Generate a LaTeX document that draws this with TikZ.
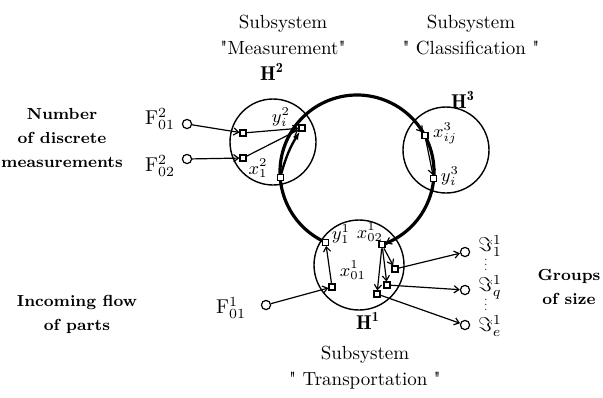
\documentclass[tikz,border=0pt]{standalone}
\usepackage{amsmath,amssymb}
\usepackage{fontspec}
\usepackage{tikz}
\usetikzlibrary{arrows.meta,calc}

\newcommand{\coldots}{\vbox{\baselineskip2.4pt\lineskiplimit0pt\hbox{.}\hbox{.}\hbox{.}}}

\begin{document}
\begin{tikzpicture}[
    x=0.5pt, y=-0.5pt,
    port/.style={draw, rectangle, line width=0.6pt, minimum size=3pt, inner sep=0pt, fill=white},
    term/.style={draw, circle, line width=0.6pt, minimum size=4.6pt, inner sep=0pt, fill=white},
    zone/.style={draw, circle, line width=0.7pt, inner sep=0pt},
    ring/.style={line width=1.6pt},
    flow/.style={line width=0.6pt, -{Straight Barb[length=2.4pt,width=3.6pt]}},
    title/.style={font=\fontsize{9.5}{13}\selectfont, align=center},
    note/.style={font=\fontsize{8}{12}\selectfont\bfseries, align=center},
    lbl/.style={font=\small, inner sep=0pt}
]
\useasboundingbox (0,0) rectangle (603,397);

% subsystems
\node[zone, minimum size=43pt] (h2) at (273,142) {};
\node[zone, minimum size=43pt] (h3) at (446,150) {};
\node[zone, minimum size=45pt] (h1) at (359,265) {};

% transport ring
\coordinate (rc) at (357,172);
\draw[ring] ($(rc)+(114:77)$) arc[start angle=114, end angle=431, radius=77];

% ports on the ring
\node[port] (x12) at ($(rc)+(176:77)$) {};
\node[port] (yi2) at (302,128) {};
\node[port] (x3ij) at ($(rc)+(332:77)$) {};
\node[port] (y3i) at ($(rc)+(5:77)$) {};
\node[port] (y11) at ($(rc)+(114:77)$) {};
\node[port] (x021) at ($(rc)+(71:77)$) {};
\coordinate (r3) at ($(rc)+(318:77)$);
\coordinate (r1) at ($(rc)+(60:77)$);

% inner ports
\node[port] (pa) at (243,133) {};
\node[port] (pb) at (243,158) {};
\node[port] (x011) at (332,287) {};
\node[port] (sa) at (395,269) {};
\node[port] (sb) at (387,285) {};
\node[port] (sc) at (377,294) {};

% terminals
\node[term] (f012) at (187,124) {};
\node[term] (f022) at (187,159) {};
\node[term] (f011) at (266,305) {};
\node[term] (oa) at (465,252) {};
\node[term] (ob) at (465,290) {};
\node[term] (oc) at (465,325) {};

% flows
\draw[flow] (f012) -- (pa);
\draw[flow] (pa) -- (yi2);
\draw[flow] (f022) -- (pb);
\draw[flow] (pb) -- (yi2);
\draw[line width=1.2pt, -{Latex[length=4pt]}] (x12) to[bend left=8] (yi2);
\draw[flow] (r3) -- (x3ij);
\draw[flow] (x3ij) -- (y3i);
\draw[flow] (f011) -- (x011);
\draw[flow] (x011) -- (y11);
\draw[flow] (r1) -- (x021);
\draw[flow] (x021) -- (sa);
\draw[flow] (x021) -- (sb);
\draw[flow] (x021) -- (sc);
\draw[flow] (sa) -- (oa);
\draw[flow] (sb) -- (ob);
\draw[flow] (sc) -- (oc);

% port labels
\node[lbl] (l-yi2) at (281,117) {$y^{2}_{i}$};
\node[lbl] (l-x12) at (258,168) {$x^{2}_{1}$};
\node[lbl] (l-x3ij) at (445,133) {$x^{3}_{ij}$};
\node[lbl] (l-y3i) at (450,176) {$y^{3}_{i}$};
\node[lbl] (l-y11) at (341,234) {$y^{1}_{1}$};
\node[lbl] (l-x011) at (353,270) {$x^{1}_{01}$};
\node[lbl] (l-x021) at (370,232) {$x^{1}_{02}$};

% terminal labels
\node[lbl, font=\normalsize] (l-f012) at (160,119) {$\mathrm{F}^{2}_{01}$};
\node[lbl, font=\normalsize] (l-f022) at (160,166) {$\mathrm{F}^{2}_{02}$};
\node[lbl, font=\normalsize] (l-f011) at (231,308) {$\mathrm{F}^{1}_{01}$};
\node[lbl, font=\normalsize, anchor=west] (l-oa) at (478,246) {$\Im^{1}_{1}$};
\node[lbl, font=\normalsize, anchor=west] (l-ob) at (478,287) {$\Im^{1}_{q}$};
\node[lbl, font=\normalsize, anchor=west] (l-oc) at (478,326) {$\Im^{1}_{e}$};
\node[lbl, font=\tiny] (d1) at (486,265) {\coldots};
\node[lbl, font=\tiny] (d2) at (486,305) {\coldots};

% subsystem names
\node[lbl, font=\normalsize] (n-h2) at (272,72) {$\mathbf{H}^{\mathbf{2}}$};
\node[lbl, font=\normalsize] (n-h3) at (463,100) {$\mathbf{H}^{\mathbf{3}}$};
\node[lbl, font=\normalsize] (n-h1) at (368,321) {$\mathbf{H}^{\mathbf{1}}$};
\node[title] (t-h2) at (283,35) {Subsystem\\\textquotedbl Measurement\textquotedbl};
\node[title] (t-h3) at (471,35) {Subsystem\\\textquotedbl\ Classification \textquotedbl};
\node[title] (t-h1) at (365,368) {Subsystem\\\textquotedbl\ Transportation \textquotedbl};

% side notes
\node[note] (n-num) at (62,138) {Number\\of discrete\\measurements};
\node[note] (n-inc) at (77,314) {Incoming flow\\of parts};
\node[note] (n-grp) at (569,287) {Groups\\of size};
\end{tikzpicture}
\end{document}
